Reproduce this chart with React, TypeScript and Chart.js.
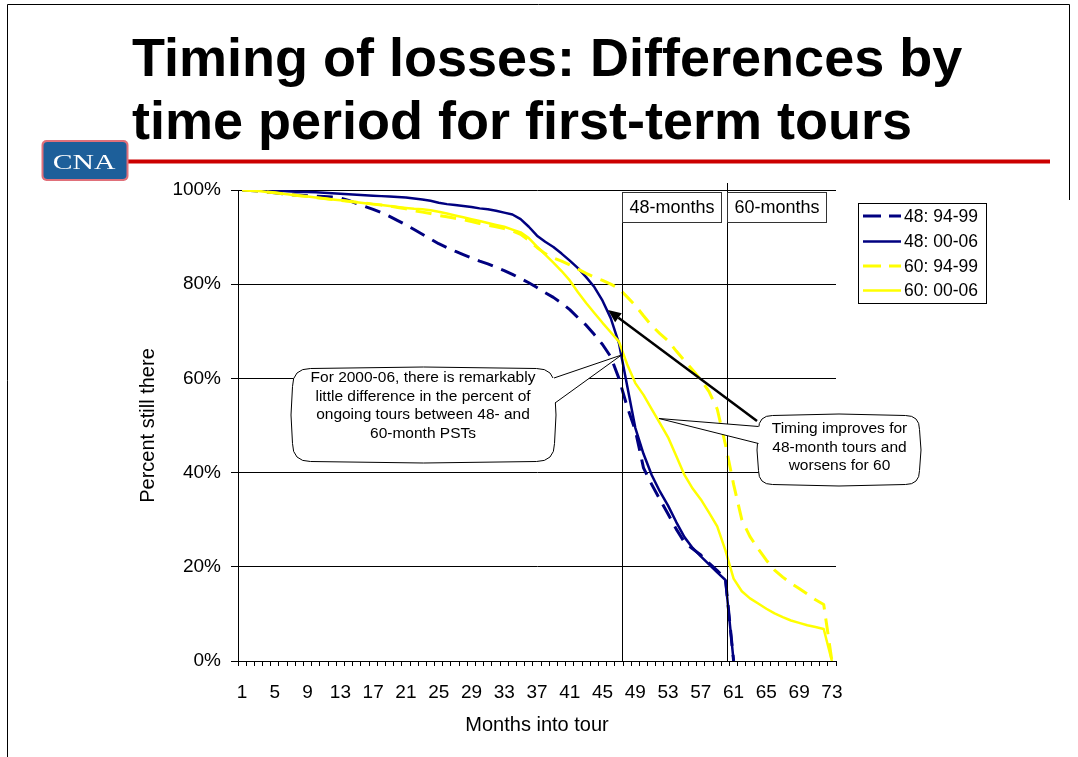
import React, { useEffect, useRef } from 'react';
import { Chart, registerables } from 'chart.js';

Chart.register(...registerables);

// ---------- data ----------
const months = [
  1, 2, 3, 4, 5, 6, 7, 8, 9, 10, 11, 12, 13, 14, 15, 16, 17, 18, 19, 20,
  21, 22, 23, 24, 25, 26, 27, 28, 29, 30, 31, 32, 33, 34, 35, 36, 37, 38, 39, 40,
  41, 42, 43, 44, 45, 46, 47, 48, 49, 50, 51, 52, 53, 54, 55, 56, 57, 58, 59, 60,
  61, 62, 63, 64, 65, 66, 67, 68, 69, 70, 71, 72, 73,
];

const s48_9499 = [
  100, 99.9, 99.8, 99.6, 99.4, 99.2, 99.0, 98.9, 98.8, 98.7,
  98.6, 98.5, 98.3, 97.8, 97.1, 96.5, 95.9, 95.2, 94.4, 93.5,
  92.6, 91.6, 90.6, 89.6, 88.6, 87.8, 87.0, 86.3, 85.6, 84.9,
  84.3, 83.6, 82.9, 82.1, 81.2, 80.3, 79.3, 78.2, 77.2, 76.0,
  74.6, 72.9, 71.3, 69.3, 67.2, 64.6, 60.0, 54.0, 49.0, 41.0,
  37.5, 34.3, 31.2, 28.0, 25.2, 23.8, 22.5, 20.8, 19.2, 17.5,
  0, null, null, null, null, null, null, null, null, null, null, null, null,
];

const s48_0006 = [
  100, 100, 99.9, 99.9, 99.8, 99.8, 99.7, 99.6, 99.6, 99.5,
  99.4, 99.3, 99.2, 99.1, 99.0, 98.9, 98.8, 98.7, 98.6, 98.5,
  98.4, 98.2, 98.0, 97.7, 97.3, 97.0, 96.8, 96.6, 96.4, 96.1,
  95.9, 95.6, 95.2, 94.8, 93.8, 92.2, 90.3, 89.0, 87.9, 86.5,
  85.0, 83.4, 81.5, 79.4, 76.5, 72.8, 67.5, 58.5, 49.5, 44.0,
  39.5, 36.0, 33.0, 29.5, 26.3, 24.0, 22.2, 20.5, 18.8, 17.2,
  0, null, null, null, null, null, null, null, null, null, null, null, null,
];

const s60_9499 = [
  100, 99.9, 99.8, 99.6, 99.4, 99.2, 99.0, 98.8, 98.6, 98.4,
  98.2, 98.0, 97.8, 97.6, 97.4, 97.2, 97.0, 96.8, 96.6, 96.3,
  96.0, 95.6, 95.3, 95.0, 94.6, 94.3, 94.0, 93.7, 93.3, 92.9,
  92.5, 92.2, 91.8, 91.3, 90.6, 89.3, 87.8, 86.5, 85.6, 84.9,
  84.1, 83.2, 82.3, 81.5, 80.8, 80.0, 79.1, 77.3, 75.5, 73.3,
  71.2, 69.5, 68.0, 65.8, 63.8, 61.8, 59.7, 57.2, 53.5, 46.0,
  37.5, 30.0, 26.4, 23.8, 21.4, 19.3, 17.8, 16.5, 15.4, 14.2,
  13.0, 12.0, 0,
];

const s60_0006 = [
  100, 99.9, 99.8, 99.6, 99.4, 99.2, 99.0, 98.8, 98.6, 98.4,
  98.2, 98.0, 97.8, 97.6, 97.4, 97.2, 97.0, 96.8, 96.6, 96.4,
  96.2, 96.0, 95.9, 95.7, 95.4, 95.0, 94.6, 94.2, 93.8, 93.4,
  93.0, 92.6, 92.2, 91.6, 91.0, 89.8, 88.0, 86.3, 84.6, 82.8,
  80.8, 78.3, 76.0, 73.9, 71.8, 69.8, 67.8, 63.0, 59.0, 56.5,
  53.5, 50.5, 47.5, 43.5, 39.5, 36.6, 34.3, 31.5, 28.6, 23.5,
  17.5, 14.8, 13.3, 12.2, 11.1, 10.1, 9.3, 8.6, 8.1, 7.6,
  7.2, 6.8, 0,
];

const seriesLabels = ['48: 94-99', '48: 00-06', '60: 94-99', '60: 00-06'];
const yTickValues = [0, 20, 40, 60, 80, 100];
const xLabelStep = 4;

const refLines = [
  { label: '48-months', month: 47.4 },
  { label: '60-months', month: 60.2 },
];

const titleLines = ['Timing of losses: Differences by', 'time period for first-term tours'];
const callout1Text = [
  'For 2000-06, there is remarkably',
  'little difference in the percent of',
  'ongoing tours between 48- and',
  '60-month PSTs',
];
const callout2Text = ['Timing improves for', '48-month tours and', 'worsens for 60'];

// ---------- styles ----------
const NAVY = '#000080';
const YELLOW = '#ffff00';
const FONT = "'Liberation Sans', Arial, sans-serif";

const seriesStyles = [
  { color: NAVY, width: 3, dash: [16, 9] },
  { color: NAVY, width: 2.5, dash: [] as number[] },
  { color: YELLOW, width: 3, dash: [16, 9] },
  { color: YELLOW, width: 2.5, dash: [] as number[] },
];

function bubblePath(ctx: CanvasRenderingContext2D, x0: number, y0: number, x1: number, y1: number, r: number) {
  const mx = (x0 + x1) / 2;
  const my = (y0 + y1) / 2;
  ctx.beginPath();
  ctx.moveTo(x0 + r, y0);
  ctx.quadraticCurveTo(mx, y0 - 3, x1 - r, y0);
  ctx.quadraticCurveTo(x1, y0, x1, y0 + r);
  ctx.quadraticCurveTo(x1 + 3, my, x1, y1 - r);
  ctx.quadraticCurveTo(x1, y1, x1 - r, y1);
  ctx.quadraticCurveTo(mx, y1 + 3, x0 + r, y1);
  ctx.quadraticCurveTo(x0, y1, x0, y1 - r);
  ctx.quadraticCurveTo(x0 - 3, my, x0, y0 + r);
  ctx.quadraticCurveTo(x0, y0, x0 + r, y0);
  ctx.closePath();
}

function drawCallout(
  ctx: CanvasRenderingContext2D,
  box: [number, number, number, number],
  r: number,
  apex: [number, number],
  b1: [number, number],
  b2: [number, number],
  inset: number,
  lines: string[],
  cx: number,
  firstY: number,
  lh: number,
) {
  const [x0, y0, x1, y1] = box;
  ctx.save();
  ctx.lineWidth = 1;
  ctx.strokeStyle = '#000';
  ctx.fillStyle = '#fff';
  bubblePath(ctx, x0, y0, x1, y1, r);
  ctx.fill();
  ctx.stroke();
  // wedge
  ctx.beginPath();
  ctx.moveTo(apex[0], apex[1]);
  ctx.lineTo(b1[0], b1[1]);
  ctx.lineTo(b1[0] + inset, b1[1]);
  ctx.lineTo(b2[0] + inset, b2[1]);
  ctx.lineTo(b2[0], b2[1]);
  ctx.closePath();
  ctx.fill();
  ctx.beginPath();
  ctx.moveTo(b1[0], b1[1]);
  ctx.lineTo(apex[0], apex[1]);
  ctx.lineTo(b2[0], b2[1]);
  ctx.stroke();
  ctx.fillStyle = '#000';
  ctx.font = `15.5px ${FONT}`;
  ctx.textAlign = 'center';
  ctx.textBaseline = 'middle';
  lines.forEach((t, i) => ctx.fillText(t, cx, firstY + i * lh));
  ctx.restore();
}

const overlayPlugin = {
  id: 'overlay',
  beforeDraw(chart: any) {
    const { ctx, width, height } = chart;
    ctx.save();
    ctx.fillStyle = '#fff';
    ctx.fillRect(0, 0, width, height);
    ctx.restore();
  },
  afterDatasetsDraw(chart: any) {
    const { ctx, chartArea, scales } = chart;
    const x = scales.x;
    ctx.save();
    // reference lines + label boxes
    refLines.forEach((r, i) => {
      const px = Math.round(x.getPixelForValue(r.month - 1)) + 0.5;
      const top = i === 0 ? 192 : 183;
      ctx.strokeStyle = '#000';
      ctx.lineWidth = 1;
      ctx.beginPath();
      ctx.moveTo(px, top);
      ctx.lineTo(px, chartArea.bottom);
      ctx.stroke();
      const bw = 99;
      const by = 192.5;
      const bh = 30;
      ctx.fillStyle = '#fff';
      ctx.fillRect(px, by, bw, bh);
      ctx.strokeStyle = '#333';
      ctx.strokeRect(px, by, bw, bh);
      ctx.fillStyle = '#000';
      ctx.font = `18px ${FONT}`;
      ctx.textAlign = 'center';
      ctx.textBaseline = 'middle';
      ctx.fillText(r.label, px + bw / 2, by + bh / 2 + 0.5);
    });

    // arrow
    const tail: [number, number] = [757, 421];
    const head: [number, number] = [608, 310];
    const ang = Math.atan2(head[1] - tail[1], head[0] - tail[0]);
    const hl = 13;
    const hw = 5.5;
    const bx = head[0] - hl * Math.cos(ang);
    const byy = head[1] - hl * Math.sin(ang);
    ctx.strokeStyle = '#000';
    ctx.lineWidth = 2.5;
    ctx.beginPath();
    ctx.moveTo(tail[0], tail[1]);
    ctx.lineTo(bx, byy);
    ctx.stroke();
    ctx.fillStyle = '#000';
    ctx.beginPath();
    ctx.moveTo(head[0], head[1]);
    ctx.lineTo(bx + hw * Math.sin(ang), byy - hw * Math.cos(ang));
    ctx.lineTo(bx - hw * Math.sin(ang), byy + hw * Math.cos(ang));
    ctx.closePath();
    ctx.fill();

    // callouts
    drawCallout(ctx, [292.5, 368.5, 554.5, 461.5], 18, [621.5, 355], [554, 378], [555, 403], -3,
      callout1Text, 423, 378, 18.6);
    drawCallout(ctx, [758.5, 415.5, 919.5, 484.5], 14, [659, 418.5], [758.5, 426.5], [758.5, 443.5], 3,
      callout2Text, 839.5, 428.5, 18.8);

    // legend
    const lx0 = 858.5, ly0 = 203.5, lx1 = 986.5, ly1 = 303.5;
    ctx.fillStyle = '#fff';
    ctx.fillRect(lx0, ly0, lx1 - lx0, ly1 - ly0);
    ctx.strokeStyle = '#000';
    ctx.lineWidth = 1;
    ctx.strokeRect(lx0, ly0, lx1 - lx0, ly1 - ly0);
    const rowsY = [216, 241.5, 266, 290.5];
    seriesLabels.forEach((lab, i) => {
      const st = seriesStyles[i];
      ctx.strokeStyle = st.color;
      ctx.lineWidth = st.width;
      ctx.setLineDash(st.dash.length ? [18, 8] : []);
      ctx.beginPath();
      ctx.moveTo(863, rowsY[i]);
      ctx.lineTo(901, rowsY[i]);
      ctx.stroke();
      ctx.setLineDash([]);
      ctx.fillStyle = '#000';
      ctx.font = `17.5px ${FONT}`;
      ctx.textAlign = 'left';
      ctx.textBaseline = 'middle';
      ctx.fillText(lab, 904, rowsY[i] + 1);
    });
    ctx.restore();
  },
  afterDraw(chart: any) {
    const { ctx } = chart;
    ctx.save();
    // slide frame
    ctx.strokeStyle = '#000';
    ctx.lineWidth = 1;
    ctx.beginPath();
    ctx.moveTo(7.5, 757);
    ctx.lineTo(7.5, 4.5);
    ctx.lineTo(1069.5, 4.5);
    ctx.lineTo(1069.5, 200);
    ctx.stroke();
    // title
    ctx.fillStyle = '#000';
    ctx.font = `bold 54px ${FONT}`;
    ctx.textAlign = 'left';
    ctx.textBaseline = 'alphabetic';
    ctx.fillText(titleLines[0], 132, 76);
    ctx.fillText(titleLines[1], 132, 139);
    // red rule
    ctx.fillStyle = '#cc0000';
    ctx.fillRect(126, 159.5, 924, 4);
    // logo
    ctx.fillStyle = '#e0707a';
    ctx.beginPath();
    (ctx as any).roundRect(41.5, 140, 87, 41, 5);
    ctx.fill();
    ctx.fillStyle = '#1d5f9a';
    ctx.beginPath();
    (ctx as any).roundRect(43.5, 142, 83, 37, 4);
    ctx.fill();
    ctx.fillStyle = '#fff';
    ctx.font = `22px 'Liberation Serif', 'Times New Roman', serif`;
    ctx.textAlign = 'center';
    ctx.textBaseline = 'alphabetic';
    ctx.save();
    ctx.translate(84, 169);
    ctx.scale(1.35, 1);
    ctx.fillText('CNA', 0, 0);
    ctx.restore();
    ctx.restore();
  },
};

export default function App() {
  const ref = useRef<HTMLCanvasElement | null>(null);

  useEffect(() => {
    if (!ref.current) return;
    const datasets = [s48_9499, s48_0006, s60_9499, s60_0006].map((d, i) => ({
      label: seriesLabels[i],
      data: d,
      borderColor: seriesStyles[i].color,
      backgroundColor: seriesStyles[i].color,
      borderWidth: seriesStyles[i].width,
      borderDash: seriesStyles[i].dash,
      borderJoinStyle: 'round' as const,
      pointRadius: 0,
      pointHoverRadius: 0,
      fill: false,
      spanGaps: false,
      tension: 0,
      order: 3 - i,
    }));

    const chart = new Chart(ref.current, {
      type: 'line',
      data: { labels: months.map(String), datasets },
      options: {
        responsive: false,
        animation: false,
        events: [],
        font: { family: FONT },
        layout: { padding: { left: 132, top: 190, right: 242, bottom: 16 } },
        plugins: {
          legend: { display: false },
          tooltip: { enabled: false },
          title: { display: false },
        },
        scales: {
          x: {
            type: 'category',
            offset: true,
            afterFit: (s: any) => { s.height = 80; },
            grid: {
              display: true,
              offset: true,
              drawOnChartArea: false,
              drawTicks: true,
              tickLength: 5,
              color: '#000',
            },
            border: { display: true, color: '#000', width: 1 },
            ticks: {
              autoSkip: false,
              maxRotation: 0,
              minRotation: 0,
              padding: 15,
              color: '#000',
              font: { size: 19, family: FONT },
              callback: (_v: any, idx: number) => (idx % xLabelStep === 0 ? String(months[idx]) : ''),
            },
            title: {
              display: true,
              text: 'Months into tour',
              color: '#000',
              font: { size: 20, family: FONT },
              padding: { top: 4, bottom: 4 },
            },
          },
          y: {
            min: 0,
            max: 100,
            afterFit: (s: any) => { s.width = 106; },
            afterBuildTicks: (s: any) => { s.ticks = yTickValues.map((v) => ({ value: v })); },
            grid: {
              display: true,
              drawOnChartArea: true,
              drawTicks: true,
              tickLength: 7,
              color: '#000',
              lineWidth: 1,
            },
            border: { display: true, color: '#000', width: 1 },
            ticks: {
              padding: 10,
              color: '#000',
              font: { size: 19, family: FONT },
              callback: (v: any) => `${v}%`,
            },
            title: {
              display: true,
              text: 'Percent still there',
              color: '#000',
              font: { size: 20, family: FONT },
              padding: { top: 4, bottom: 4 },
            },
          },
        },
      },
      plugins: [overlayPlugin],
    } as any);

    return () => chart.destroy();
  }, []);

  return (
    <div style={{ position: 'fixed', left: 0, top: 0, width: 1078, height: 757, background: '#fff' }}>
      <canvas ref={ref} width={1078} height={757} style={{ display: 'block', width: 1078, height: 757 }} />
    </div>
  );
}
